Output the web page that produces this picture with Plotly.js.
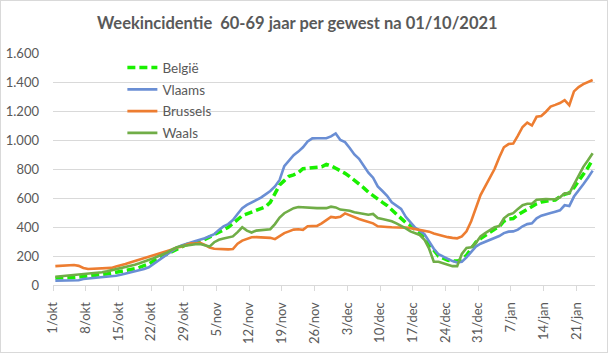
<!DOCTYPE html>
<html>
<head>
<meta charset="utf-8">
<script src="https://cdn.plot.ly/plotly-3.0.1.min.js"></script>
<style>
html,body{margin:0;padding:0;background:#fff;}
#wrap{position:relative;width:608px;height:353px;}
#chart{width:608px;height:353px;}
#frame{position:absolute;left:0;top:0;width:606px;height:351px;border:1px solid #d9d9d9;pointer-events:none;}
</style>
</head>
<body>
<div id="wrap"><div id="chart"></div><div id="frame"></div></div>
<script>
// Daily values from 1 Oct 2021 to 24 Jan 2022
var startDate = "2021-10-01";
var belgie = [48,48,49,50,52,55,58,60,63,67,71,76,82,87,93,100,106,112,122,134,
  145,165,185,200,215,232,250,262,278,286,288,295,315,330,345,365,380,398,425,455,
  478,490,503,515,525,540,570,630,690,720,750,760,775,802,806,808,810,815,832,822,
  805,790,770,748,722,700,670,640,615,590,570,548,520,494,460,430,410,385,360,330,
  280,235,200,185,170,166,165,175,205,250,295,320,343,365,385,402,440,455,458,485,
  505,525,540,560,572,580,583,586,610,625,635,672,715,760,810,867];
var vlaams = [30,30,30,31,31,33,41,44,48,52,54,57,60,64,70,78,84,90,100,110,
  122,145,170,190,212,240,258,272,285,294,303,312,322,336,350,380,404,420,448,490,
  530,552,568,585,603,625,648,680,724,820,855,895,920,950,990,1011,1012,1010,1012,1025,
  1045,1000,985,945,900,870,825,775,740,680,648,615,570,550,525,470,435,395,375,350,
  300,250,212,195,178,165,155,160,190,225,265,285,298,315,328,338,358,368,370,382,
  405,420,425,460,478,490,497,506,515,550,545,610,650,695,740,789];
var brussels = [130,131,135,138,138,132,118,110,112,116,117,117,118,128,135,145,155,165,175,185,
  195,205,212,220,232,245,258,264,278,287,286,290,276,258,250,247,246,246,248,285,
  306,320,329,330,330,330,325,316,340,358,370,382,384,380,405,407,408,425,450,470,
  465,470,494,480,470,455,445,435,425,405,400,400,398,398,397,396,392,385,378,373,
  368,355,345,335,330,325,322,335,370,440,530,620,680,740,800,880,950,972,975,1030,
  1090,1120,1100,1160,1165,1195,1230,1242,1255,1275,1240,1335,1365,1385,1398,1414];
var waals = [57,60,62,65,68,70,72,75,79,83,88,94,101,108,115,123,132,140,150,160,
  172,185,198,210,225,245,260,268,274,278,281,283,275,265,295,312,320,328,335,365,
  398,375,362,375,380,382,385,420,465,495,515,530,538,535,532,530,530,530,530,540,
  535,520,518,512,502,495,490,485,490,462,455,446,440,425,410,390,370,355,345,312,
  250,160,160,150,138,130,130,215,255,260,290,335,358,380,398,406,460,485,495,525,
  550,560,560,588,592,592,591,591,605,632,632,690,755,815,860,908];
var tickLabels = ["1/okt","8/okt","15/okt","22/okt","29/okt","5/nov","12/nov","19/nov","26/nov",
  "3/dec","10/dec","17/dec","24/dec","31/dec","7/jan","14/jan","21/jan"];
var tickDates = ["2021-10-01","2021-10-08","2021-10-15","2021-10-22","2021-10-29","2021-11-05",
  "2021-11-12","2021-11-19","2021-11-26","2021-12-03","2021-12-10","2021-12-17","2021-12-24",
  "2021-12-31","2022-01-07","2022-01-14","2022-01-21"];
var seriesNames = ["België","Vlaams","Brussels","Waals"];

function pad(n){return (n<10?"0":"")+n;}
var p = startDate.split("-").map(Number);
var dates = [];
for (var i=0;i<belgie.length;i++){
  var d = new Date(Date.UTC(p[0],p[1]-1,p[2]+i,12));
  dates.push(d.getUTCFullYear()+"-"+pad(d.getUTCMonth()+1)+"-"+pad(d.getUTCDate())+" 12:00");
}
var lastD = new Date(Date.UTC(p[0],p[1]-1,p[2]+belgie.length));
var rangeEnd = lastD.getUTCFullYear()+"-"+pad(lastD.getUTCMonth()+1)+"-"+pad(lastD.getUTCDate());

var font = "Lato, 'Open Sans', sans-serif";
var traces = [
  {x:dates,y:belgie,name:seriesNames[0],legendgroup:"a",mode:"lines",line:{color:"#1AF000",width:3.5,dash:"8px,4px"}},
  {x:dates,y:vlaams,name:seriesNames[1],legendgroup:"b",mode:"lines",line:{color:"#6A8ED4",width:2.6}},
  {x:dates,y:brussels,name:seriesNames[2],legendgroup:"c",mode:"lines",line:{color:"#ED7D31",width:2.6}},
  {x:dates,y:waals,name:seriesNames[3],legendgroup:"d",mode:"lines",line:{color:"#70AD47",width:2.6}}
];
var layout = {
  width:608,height:353,
  margin:{l:53,r:13,t:53,b:68},
  paper_bgcolor:"#ffffff",plot_bgcolor:"#ffffff",
  separators:",.",
  font:{family:font,size:13,color:"#595959"},
  title:{text:"<b>Weekincidentie  60-69 jaar per gewest na 01/10/2021</b>",
    font:{family:font,size:16.5,color:"#595959"},
    x:0.489,xanchor:"center",xref:"container",y:1-23/353,yanchor:"middle",yref:"container"},
  showlegend:true,
  legend:{x:0.128,y:1.003,xanchor:"left",yanchor:"top",bgcolor:"rgba(0,0,0,0)",
    font:{family:font,size:13.5,color:"#595959"},tracegroupgap:1.2,traceorder:"grouped"},
  xaxis:{type:"date",range:[startDate,rangeEnd],tickmode:"array",tickvals:tickDates,ticktext:tickLabels,
    tickangle:-90,ticks:"outside",ticklen:5,tickcolor:"#d9d9d9",showgrid:false,
    showline:true,linecolor:"#d9d9d9",linewidth:1,zeroline:false,
    tickfont:{family:font,size:13,color:"#595959"},ticklabelstandoff:6,fixedrange:true},
  yaxis:{range:[0,1600],tickmode:"linear",tick0:0,dtick:200,tickformat:",.0f",
    showgrid:true,gridcolor:"#d9d9d9",gridwidth:1,zeroline:false,showline:false,
    ticks:"",tickfont:{family:font,size:13,color:"#595959"},ticklabelstandoff:13,fixedrange:true}
};
Plotly.newPlot("chart",traces,layout,{displayModeBar:false,staticPlot:true});
</script>
</body>
</html>
